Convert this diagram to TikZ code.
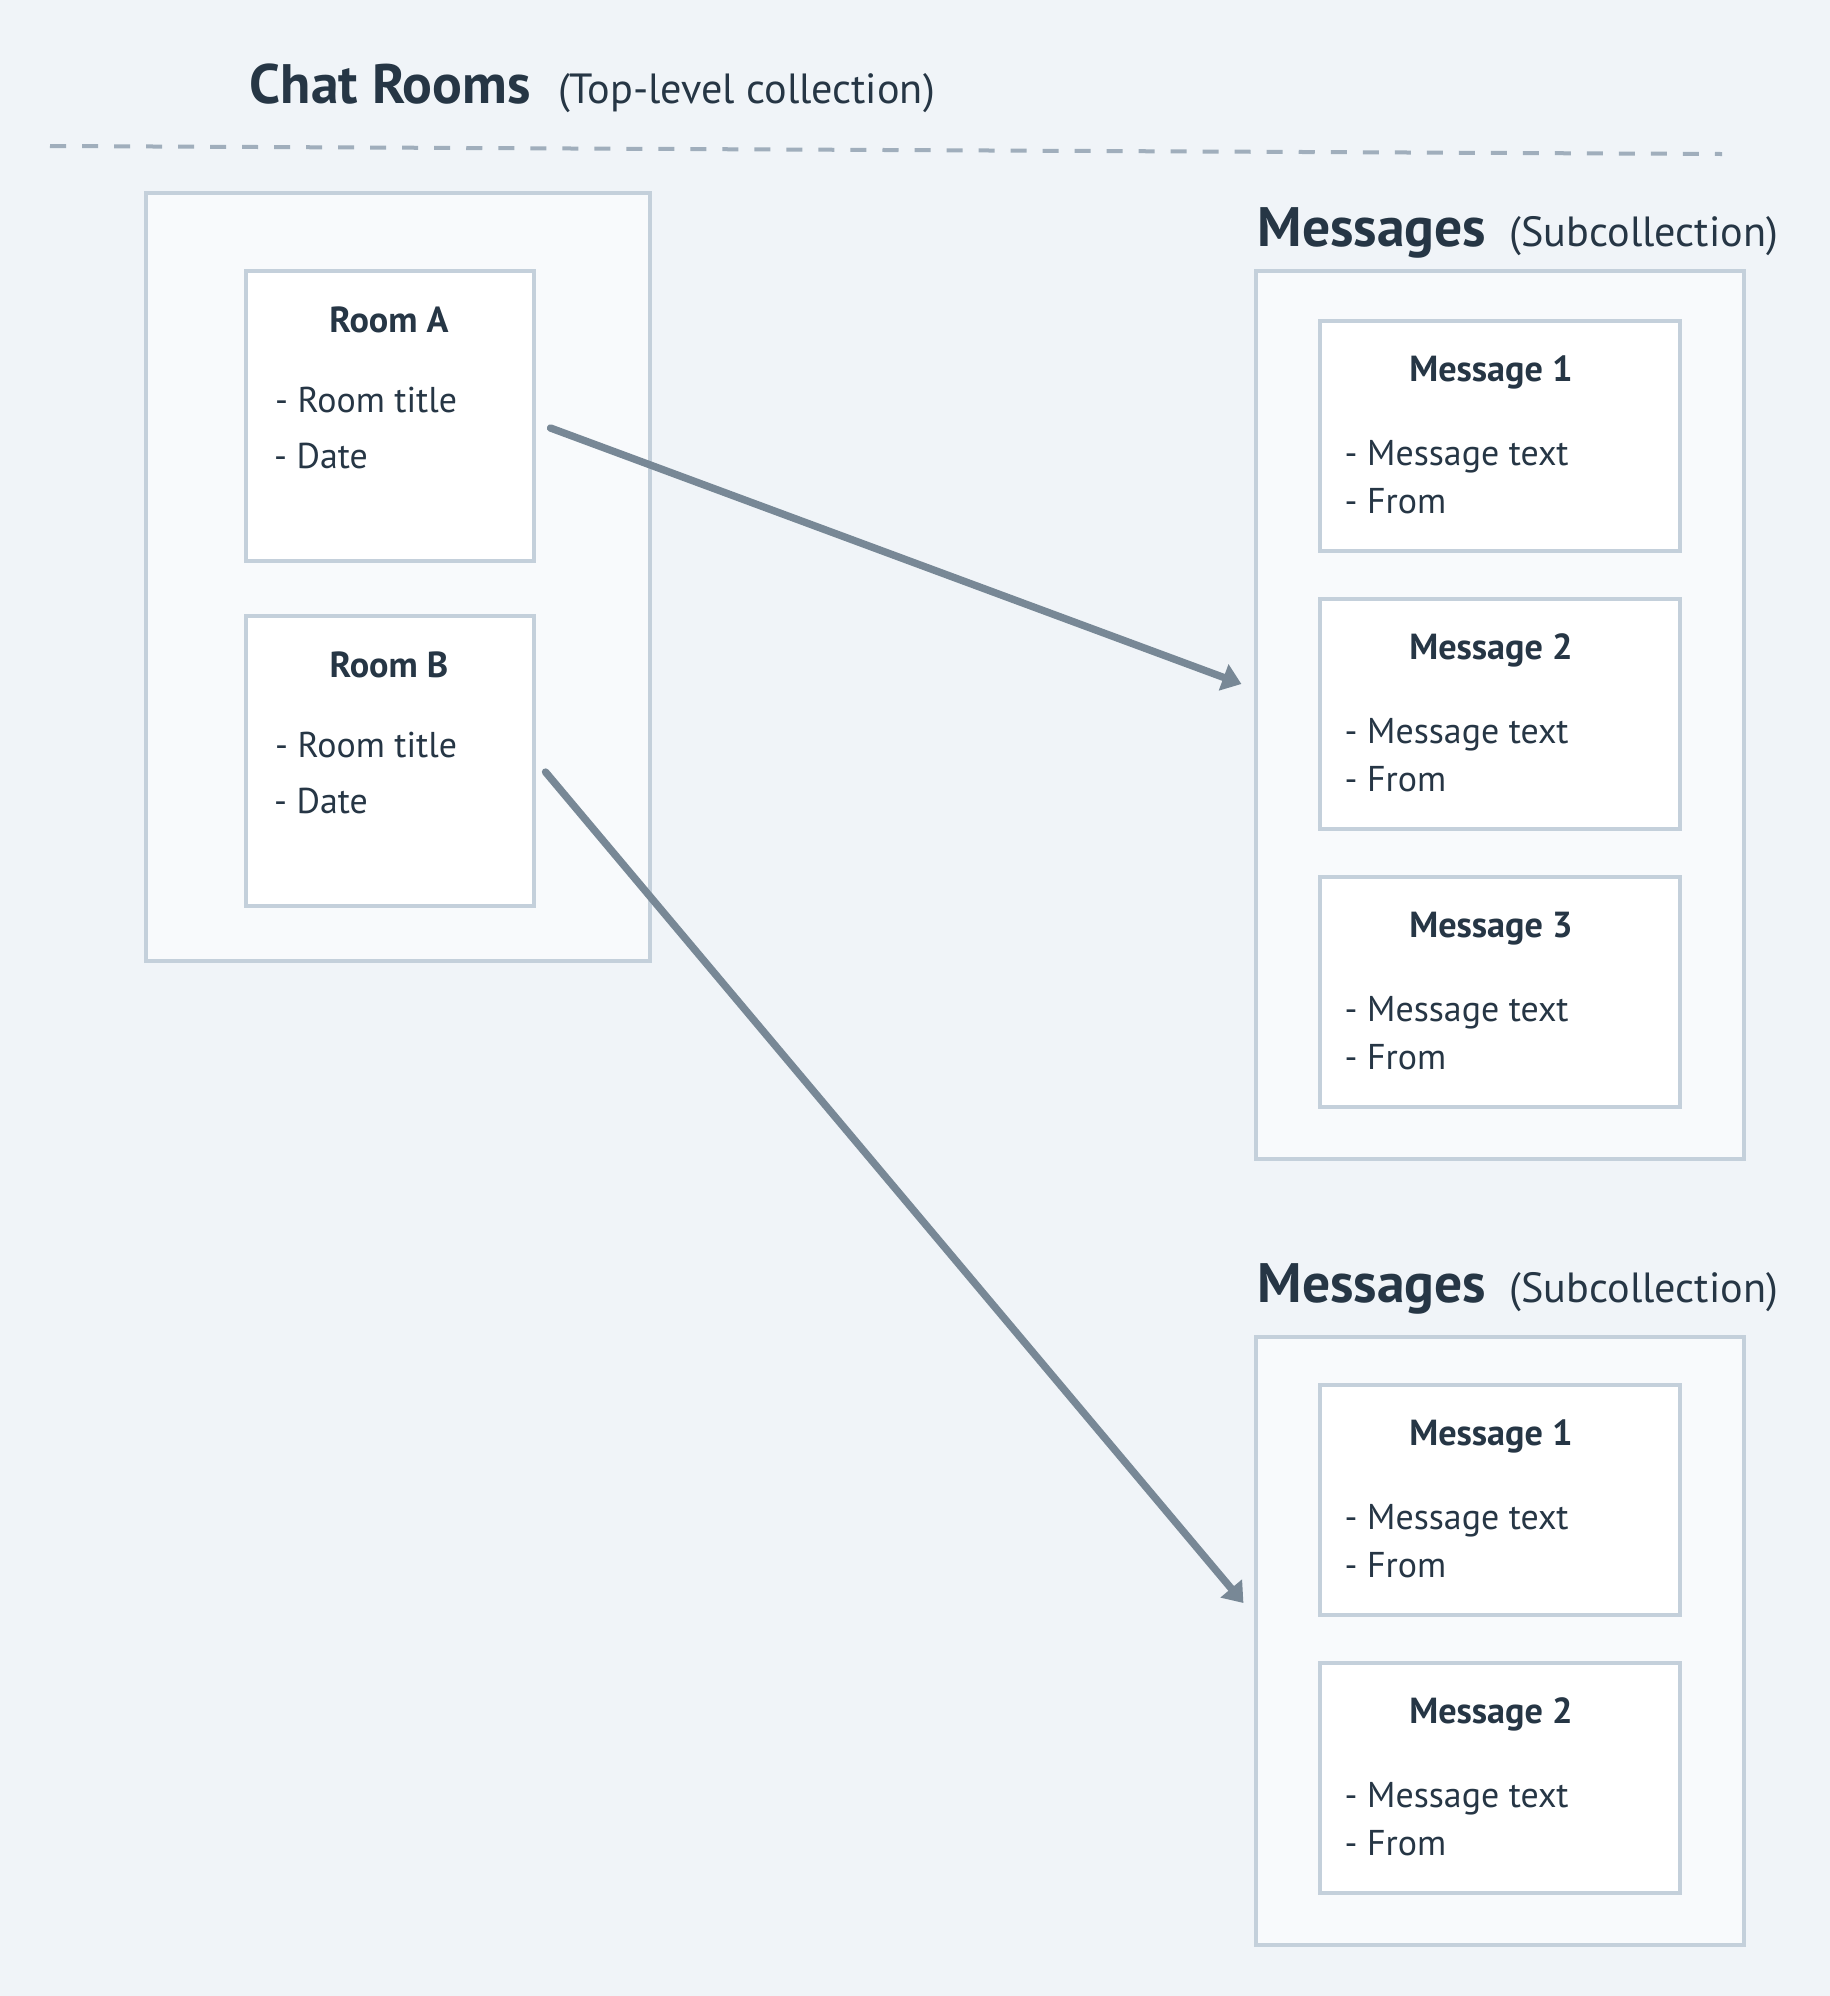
\documentclass[tikz,border=0pt]{standalone}
\usepackage{fontspec}
\setmainfont{PT Sans}
\usetikzlibrary{arrows.meta,positioning}

\definecolor{canvas}{HTML}{F0F4F8}
\definecolor{panel}{HTML}{F8FAFC}
\definecolor{edge}{HTML}{C4D0DB}
\definecolor{rule}{HTML}{A0AEBC}
\definecolor{ink}{HTML}{263645}
\definecolor{link}{HTML}{788896}

\begin{document}
\begin{tikzpicture}[x=0.01cm, y=-0.01cm,
  collection/.style={draw=edge, fill=panel, line width=1.1pt, inner sep=0pt},
  docbox/.style={draw=edge, fill=white, line width=1.1pt, inner sep=0pt,
    minimum width=3.6cm, minimum height=2.3cm},
  roombox/.style={draw=edge, fill=white, line width=1.1pt, inner sep=0pt,
    minimum width=2.87cm, minimum height=2.89cm},
  heading/.style={inner sep=0pt, text=ink, font=\fontsize{15.8}{18}\selectfont\bfseries},
  subheading/.style={inner sep=0pt, text=ink, font=\fontsize{12}{14}\selectfont},
  doctitle/.style={inner sep=0pt, anchor=base, text=ink, font=\fontsize{10.3}{12}\selectfont\bfseries},
  docfield/.style={inner sep=0pt, anchor=base west, text=ink, font=\fontsize{10.2}{12}\selectfont},
  arrowline/.style={draw=link, line width=2.1pt, line cap=round,
    -{Triangle[length=0.19cm, width=0.27cm]}}
]

% Canvas
\fill[canvas] (0,0) rectangle (1830,1996);

% Top-level header
\node[heading, anchor=base west] (chats) at (249,103) {Chat Rooms};
\node[subheading, base right=0.26cm of chats] (chatsnote) {(Top-level collection)};

\coordinate (ruleL) at (50,146);
\coordinate (ruleR) at (1722,154);
\draw[rule, line width=0.04cm, dash pattern=on 0.16cm off 0.16cm] (ruleL) -- (ruleR);

% Chat rooms collection
\node[collection, minimum width=5.04cm, minimum height=7.68cm] (rooms) at (398,577) {};

\node[roombox] (roomA) at (390,416) {};
\node[doctitle] (roomAt) at ([shift={(-1,63)}]roomA.north) {Room A};
\node[docfield] (roomAf1) at ([shift={(30,143)}]roomA.north west) {- Room title};
\node[docfield] (roomAf2) at ([shift={(29,199)}]roomA.north west) {- Date};

\node[roombox] (roomB) at (390,761) {};
\node[doctitle] (roomBt) at ([shift={(-1,63)}]roomB.north) {Room B};
\node[docfield] (roomBf1) at ([shift={(30,143)}]roomB.north west) {- Room title};
\node[docfield] (roomBf2) at ([shift={(29,199)}]roomB.north west) {- Date};

% Messages of room A
\node[heading, anchor=base west] (msgsAh) at (1257,246) {Messages};
\node[subheading, base right=0.22cm of msgsAh] (msgsAnote) {(Subcollection)};
\node[collection, minimum width=4.87cm, minimum height=8.87cm] (msgsA) at (1500,715) {};

\node[docbox] (mA1) at (1500,436) {};
\node[doctitle] (mA1t) at ([shift={(-9,62)}]mA1.north) {Message 1};
\node[docfield] (mA1f1) at ([shift={(26,146)}]mA1.north west) {- Message text};
\node[docfield] (mA1f2) at ([shift={(26,194)}]mA1.north west) {- From};

\node[docbox] (mA2) at (1500,714) {};
\node[doctitle] (mA2t) at ([shift={(-9,62)}]mA2.north) {Message 2};
\node[docfield] (mA2f1) at ([shift={(26,146)}]mA2.north west) {- Message text};
\node[docfield] (mA2f2) at ([shift={(26,194)}]mA2.north west) {- From};

\node[docbox] (mA3) at (1500,992) {};
\node[doctitle] (mA3t) at ([shift={(-9,62)}]mA3.north) {Message 3};
\node[docfield] (mA3f1) at ([shift={(26,146)}]mA3.north west) {- Message text};
\node[docfield] (mA3f2) at ([shift={(26,194)}]mA3.north west) {- From};

% Messages of room B
\node[heading, anchor=base west] (msgsBh) at (1257,1302) {Messages};
\node[subheading, base right=0.22cm of msgsBh] (msgsBnote) {(Subcollection)};
\node[collection, minimum width=4.87cm, minimum height=6.08cm] (msgsB) at (1500,1641) {};

\node[docbox] (mB1) at (1500,1500) {};
\node[doctitle] (mB1t) at ([shift={(-9,62)}]mB1.north) {Message 1};
\node[docfield] (mB1f1) at ([shift={(26,146)}]mB1.north west) {- Message text};
\node[docfield] (mB1f2) at ([shift={(26,194)}]mB1.north west) {- From};

\node[docbox] (mB2) at (1500,1778) {};
\node[doctitle] (mB2t) at ([shift={(-9,62)}]mB2.north) {Message 2};
\node[docfield] (mB2f1) at ([shift={(26,146)}]mB2.north west) {- Message text};
\node[docfield] (mB2f2) at ([shift={(26,194)}]mB2.north west) {- From};

% Links
\draw[arrowline] ([shift={(15,12)}]roomA.east) -- ([shift={(-13,-31)}]msgsA.west);
\draw[arrowline] ([shift={(10,11)}]roomB.east) -- ([shift={(-11,-38)}]msgsB.west);

\end{tikzpicture}
\end{document}
